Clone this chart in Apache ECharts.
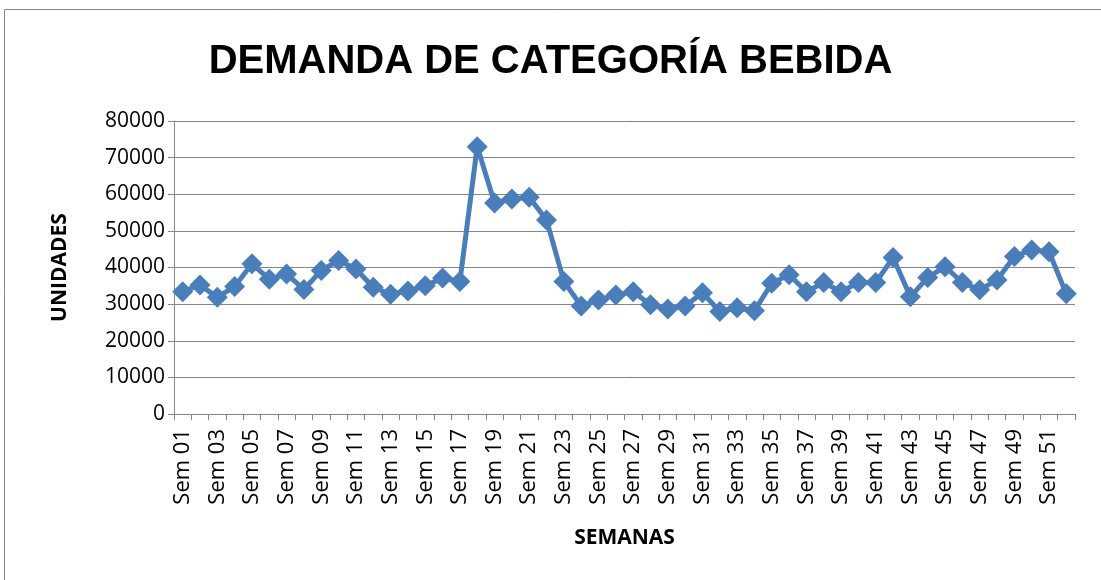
<!DOCTYPE html>
<html>
<head>
<meta charset="utf-8">
<script src="https://cdn.jsdelivr.net/npm/echarts@6/dist/echarts.min.js"></script>
<style>
    html, body {
        margin: 0;
        padding: 0;
        background: #fff;
    }
    #chart {
        width: 1101px;
        height: 580px;
    }
</style>
</head>
<body>
<div id="chart"></div>
<script>
// semanas
const weeks = []
for (let i = 1; i <= 52; i++) {
    weeks.push('Sem ' + (i < 10 ? '0' + i : i))
}
// unidades por semana
const demand = [
    33400, 35200, 31900, 34800, 41000, 36800, 38200, 34000, 39200, 41900,
    39600, 34600, 32700, 33600, 35000, 37100, 36200, 73000, 57600, 58700,
    59200, 53000, 36200, 29500, 31100, 32500, 33400, 29800, 28700, 29500,
    33100, 28000, 29000, 28200, 35700, 38000, 33400, 35900, 33400, 35900,
    35900, 42700, 32000, 37300, 40200, 35900, 33900, 36600, 43000, 44800,
    44300, 32800
]
const yTicks = [0, 80000, 10000]

const chart = echarts.init(document.getElementById('chart'))
chart.setOption({
    animation: false,
    title: {
        text: 'DEMANDA DE CATEGORÍA BEBIDA',
        left: 'center',
        top: 37,
        textStyle: {
            fontFamily: 'Liberation Sans',
            fontSize: 40,
            fontWeight: 'bold',
            color: '#000'
        }
    },
    graphic: [{
        type: 'rect',
        shape: { x: 4.5, y: 9.5, width: 1120, height: 600 },
        style: { fill: 'none', stroke: '#868686', lineWidth: 1 },
        silent: true
    }],
    grid: {
        left: 174,
        right: 26,
        top: 121,
        bottom: 166
    },
    xAxis: {
        type: 'category',
        data: weeks,
        boundaryGap: true,
        name: 'SEMANAS',
        nameLocation: 'middle',
        nameGap: 114,
        nameTextStyle: {
            fontFamily: 'Open Sans',
            fontWeight: 'bold',
            fontSize: 21,
            color: '#000'
        },
        axisLine: { lineStyle: { color: '#868686', width: 1 } },
        axisTick: { show: true, interval: 0, length: 6, lineStyle: { color: '#868686' } },
        axisLabel: {
            interval: 1,
            rotate: 90,
            margin: 15,
            fontFamily: 'Open Sans',
            fontSize: 22,
            color: '#000'
        }
    },
    yAxis: {
        type: 'value',
        min: yTicks[0],
        max: yTicks[1],
        interval: yTicks[2],
        name: 'UNIDADES',
        nameLocation: 'middle',
        nameGap: 103,
        nameRotate: 90,
        nameTextStyle: {
            fontFamily: 'Open Sans',
            fontWeight: 'bold',
            fontSize: 21,
            color: '#000'
        },
        axisLine: { show: true, lineStyle: { color: '#868686', width: 1 } },
        axisTick: { show: true, length: 6, lineStyle: { color: '#868686' } },
        axisLabel: {
            margin: 9,
            fontFamily: 'Open Sans',
            fontSize: 21,
            color: '#000',
            formatter: function (v) { return String(v) }
        },
        splitLine: { lineStyle: { color: '#868686', width: 1 } }
    },
    series: [{
        name: 'Demanda',
        type: 'line',
        data: demand,
        symbol: 'diamond',
        symbolSize: 21,
        showAllSymbol: true,
        lineStyle: { color: '#4a7ebb', width: 5 },
        itemStyle: { color: '#4a7ebb' }
    }]
})
</script>
</body>
</html>
